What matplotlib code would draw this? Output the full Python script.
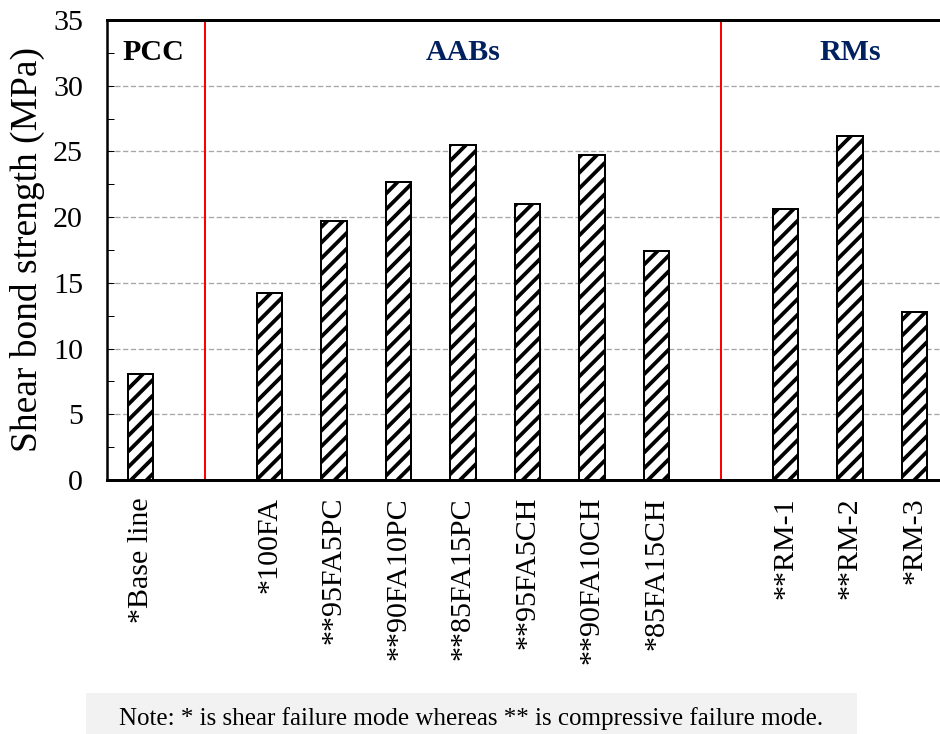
import matplotlib
matplotlib.use("Agg")
import matplotlib.pyplot as plt
from matplotlib.patches import Rectangle
from matplotlib.ticker import MultipleLocator

# data
group_names = ["PCC", "AABs", "RMs"]
group_colors = ["black", "#002060", "#002060"]
pcc_labels = ["*Base line"]
pcc_values = [8.1]
aab_labels = ["*100FA", "**95FA5PC", "**90FA10PC", "**85FA15PC",
              "**95FA5CH", "**90FA10CH", "*85FA15CH"]
aab_values = [14.2, 19.7, 22.7, 25.5, 21.0, 24.7, 17.4]
rm_labels = ["**RM-1", "**RM-2", "*RM-3"]
rm_values = [20.6, 26.2, 12.8]
note = "Note: * is shear failure mode whereas ** is compressive failure mode."

# hatch density follows the dpi, 94 with '//' gives the stripe spacing of the original
DPI = 94
W, H = 940, 734

def pt(px):
    # pixel size -> points at this dpi
    return px * 72.0 / DPI

plt.rcParams['font.family'] = ['Liberation Serif', 'DejaVu Serif']
plt.rcParams['hatch.linewidth'] = pt(3.8)
plt.rcParams['hatch.color'] = 'black'

# x positions: one empty slot between groups (red divider sits there)
labels, values, pos, centers, dividers = [], [], [], [], []
x = 0
for i, (labs, vals) in enumerate([(pcc_labels, pcc_values),
                                  (aab_labels, aab_values),
                                  (rm_labels, rm_values)]):
    if i > 0:
        dividers.append(x)
        x += 1
    start = x
    for l, v in zip(labs, vals):
        labels.append(l)
        values.append(v)
        pos.append(x)
        x += 1
    centers.append((start + x - 1) / 2)

fig = plt.figure(figsize=(W / DPI, H / DPI), dpi=DPI)
ax = fig.add_axes([107 / W, 254 / H, 841 / W, 460 / H])

ax.bar(pos, values, width=0.4, color='white', edgecolor='black',
       hatch='//', linewidth=pt(2), zorder=3)

for d in dividers:
    ax.axvline(d, color='red', lw=pt(2), zorder=2)

ax.set_xlim(-0.52, x - 1 + 0.52)
ax.set_ylim(0, 35)
ax.yaxis.set_major_locator(MultipleLocator(5))
ax.yaxis.set_minor_locator(MultipleLocator(2.5))
ax.yaxis.grid(True, which='major', linestyle=(0, (4, 2)), color='#a6a6a6',
              linewidth=pt(1.3), zorder=1)
ax.set_axisbelow(True)

ax.tick_params(axis='y', which='both', direction='in', length=pt(7),
               width=pt(1), labelsize=pt(30), pad=pt(24))
ax.set_xticks(pos)
ax.set_xticklabels(labels, rotation=90, fontsize=pt(30))
ax.tick_params(axis='x', length=0, pad=pt(17))

ax.set_ylabel('Shear bond strength (MPa)', fontsize=pt(37.5), labelpad=pt(8))

# group names
label_x = list(centers)
label_x[0] += 0.2
for gx, name, c in zip(label_x, group_names, group_colors):
    ax.text(gx, 32.5, name, ha='center', va='center', fontsize=pt(30),
            fontweight='bold', color=c)

ax.spines['top'].set_linewidth(pt(3))
ax.spines['bottom'].set_linewidth(pt(3))
ax.spines['left'].set_linewidth(pt(2.5))
ax.spines['right'].set_visible(False)

# note box at the bottom
fig.patches.append(Rectangle((86 / W, 0), (857 - 86) / W, 41 / H,
                             transform=fig.transFigure, facecolor='#f2f2f2',
                             edgecolor='none'))
fig.text(471.5 / W, 9 / H, note, ha='center', va='baseline', fontsize=pt(25))

fig.savefig('out.png', dpi=DPI)
